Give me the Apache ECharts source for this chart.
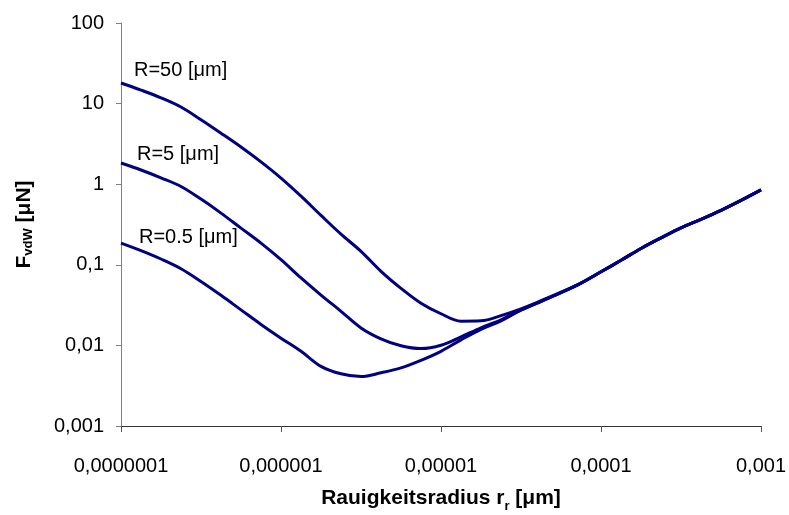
<!DOCTYPE html>
<html>
<head>
<meta charset="utf-8">
<script src="https://cdn.jsdelivr.net/npm/echarts@6/dist/echarts.min.js"></script>
<style>
  html, body { margin: 0; padding: 0; background: #ffffff; }
  #chart { width: 789px; height: 515px; }
</style>
</head>
<body>
<div id="chart"></div>
<script>
// Roughness radius r_r (log-spaced sample points)
const roughnessRadius = [
  1e-7, 1.334e-7, 1.778e-7, 2.371e-7, 3.162e-7, 4.217e-7, 5.623e-7, 7.499e-7,
  1e-6, 1.334e-6, 1.778e-6, 2.371e-6, 3.162e-6, 4.217e-6, 5.623e-6, 7.499e-6,
  1e-5, 1.334e-5, 1.778e-5, 2.371e-5, 3.162e-5, 4.217e-5, 5.623e-5, 7.499e-5,
  1e-4, 1.334e-4, 1.778e-4, 2.371e-4, 3.162e-4, 4.217e-4, 5.623e-4, 7.499e-4,
  1e-3
];

// van der Waals force F_vdW [µN] for particle radius R = 50 µm
const forceR50 = [
  18.0, 14.7, 11.8, 9.07, 6.30, 4.29, 2.89, 1.89,
  1.19, 0.71, 0.41, 0.240, 0.147, 0.0831, 0.0511, 0.0334,
  0.0247, 0.0200, 0.0202, 0.0234, 0.0284, 0.0358, 0.0457, 0.0593,
  0.0819, 0.1137, 0.1593, 0.2157, 0.2877, 0.3667, 0.4745, 0.631,
  0.852
];

// R = 5 µm
const forceR5 = [
  1.83, 1.50, 1.20, 0.937, 0.653, 0.438, 0.285, 0.186,
  0.1157, 0.0686, 0.0421, 0.0265, 0.01649, 0.01207, 0.00989, 0.00913,
  0.01003, 0.01278, 0.01654, 0.0208, 0.0276, 0.0352, 0.0452, 0.0593,
  0.0819, 0.1137, 0.1593, 0.2157, 0.2877, 0.3667, 0.4745, 0.631,
  0.852
];

// R = 0.5 µm
const forceR05 = [
  0.186, 0.150, 0.118, 0.0895, 0.0621, 0.0418, 0.0276, 0.0182,
  0.0123, 0.00845, 0.00550, 0.00444, 0.00410, 0.00457, 0.00526, 0.00653,
  0.00845, 0.01173, 0.01585, 0.0202, 0.0273, 0.0350, 0.0450, 0.0593,
  0.0819, 0.1137, 0.1593, 0.2157, 0.2877, 0.3667, 0.4745, 0.631,
  0.852
];

const seriesNames = ['R=50 [µm]', 'R=5 [µm]', 'R=0.5 [µm]'];
const seriesLabels = ['R=50 [μm]', 'R=5 [μm]', 'R=0.5 [μm]'];

// Decade tick labels (German decimal comma)
const xTickLabels = ['0,0000001', '0,000001', '0,00001', '0,0001', '0,001'];
const yTickLabels = ['0,001', '0,01', '0,1', '1', '10', '100'];

const FONT = "'Liberation Sans', Arial, Helvetica, sans-serif";
const LINE_COLOR = '#000080';

function pairs(ys) {
  return roughnessRadius.map((x, i) => [x, ys[i]]);
}

const chart = echarts.init(document.getElementById('chart'), null, { renderer: 'canvas' });

const option = {
  backgroundColor: '#ffffff',
  animation: false,
  grid: {
    left: 121, right: 28, top: 23, bottom: 89,
    containLabel: false,
    outerBoundsMode: 'none'
  },
  xAxis: {
    type: 'log',
    logBase: 10,
    min: 1e-7,
    max: 1e-3,
    name: '{b|Rauigkeitsradius r}{s|r}{b| [μm]}',
    nameLocation: 'middle',
    nameGap: 62,
    nameTextStyle: {
      rich: {
        b: { fontFamily: FONT, fontWeight: 'bold', fontSize: 21, color: '#000', verticalAlign: 'bottom' },
        s: { fontFamily: FONT, fontWeight: 'bold', fontSize: 13, color: '#000', verticalAlign: 'bottom', padding: [0, 0, -4, 0] }
      }
    },
    axisLine: { show: true, onZero: false, lineStyle: { color: '#333333', width: 1 } },
    axisTick: { show: true, inside: false, length: 6, lineStyle: { color: '#555555', width: 1 } },
    minorTick: { show: false },
    splitLine: { show: false },
    axisLabel: {
      margin: 30,
      fontFamily: FONT,
      fontSize: 20,
      color: '#000',
      formatter: v => xTickLabels[Math.round(Math.log10(v)) + 7]
    }
  },
  yAxis: {
    type: 'log',
    logBase: 10,
    min: 0.001,
    max: 100,
    name: '{b|F}{s|vdW}{b| [μN]}',
    nameLocation: 'middle',
    nameRotate: 90,
    nameGap: 86,
    nameTextStyle: {
      rich: {
        b: { fontFamily: FONT, fontWeight: 'bold', fontSize: 21, color: '#000', verticalAlign: 'bottom' },
        s: { fontFamily: FONT, fontWeight: 'bold', fontSize: 13, color: '#000', verticalAlign: 'bottom' }
      }
    },
    axisLine: { show: true, onZero: false, lineStyle: { color: '#808080', width: 1 } },
    axisTick: { show: true, inside: false, length: 5, lineStyle: { color: '#808080', width: 1 } },
    minorTick: { show: false },
    splitLine: { show: false },
    axisLabel: {
      margin: 17,
      fontFamily: FONT,
      fontSize: 20,
      color: '#000',
      formatter: v => yTickLabels[Math.round(Math.log10(v)) + 3]
    }
  },
  series: [forceR50, forceR5, forceR05].map((ys, i) => ({
    name: seriesNames[i],
    type: 'line',
    data: pairs(ys),
    showSymbol: false,
    symbol: 'none',
    smooth: 0.35,
    lineStyle: { color: LINE_COLOR, width: 3 },
    z: 3 - i
  }))
};

chart.setOption(option);

// Curve captions placed just above-right of each curve's first point
const captionOffsets = [[13, -12.7], [16, -8.7], [18, -5.4]];
const firstValues = [forceR50[0], forceR5[0], forceR05[0]];
const captions = firstValues.map((v, i) => {
  const p = chart.convertToPixel({ seriesIndex: i }, [roughnessRadius[0], v]);
  return {
    type: 'text',
    x: p[0] + captionOffsets[i][0],
    y: p[1] + captionOffsets[i][1],
    style: {
      text: seriesLabels[i],
      fontFamily: FONT,
      fontSize: 20,
      fill: '#000',
      align: 'left',
      verticalAlign: 'middle'
    },
    z: 10
  };
});
chart.setOption({ graphic: captions });
</script>
</body>
</html>
